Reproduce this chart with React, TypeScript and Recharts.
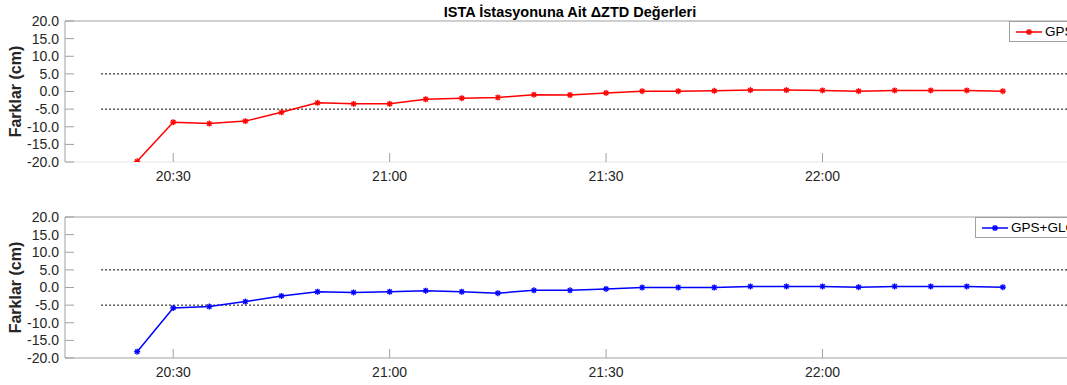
import { LineChart, Line, XAxis, YAxis, ReferenceLine } from 'recharts';

// 5-minute epochs
const times = [
  '20:25', '20:30', '20:35', '20:40', '20:45', '20:50', '20:55', '21:00', '21:05',
  '21:10', '21:15', '21:20', '21:25', '21:30', '21:35', '21:40', '21:45', '21:50',
  '21:55', '22:00', '22:05', '22:10', '22:15', '22:20', '22:25',
];

const gpsValues = [
  -19.8, -8.7, -9.1, -8.4, -5.9, -3.2, -3.5, -3.5, -2.2, -1.9, -1.7, -0.9, -1.0,
  -0.4, 0.1, 0.1, 0.2, 0.4, 0.4, 0.3, 0.1, 0.3, 0.3, 0.3, 0.1,
];

const gpsGloValues = [
  -18.2, -5.8, -5.4, -4.0, -2.4, -1.2, -1.4, -1.2, -0.9, -1.2, -1.6, -0.8, -0.8,
  -0.4, 0.0, 0.0, 0.0, 0.3, 0.3, 0.3, 0.1, 0.3, 0.3, 0.3, 0.1,
];

const xTickLabels = ['20:30', '21:00', '21:30', '22:00'];
const xRange = ['20:15', '22:35'];
const limitRange = ['20:20', '22:35'];
const limits = [5, -5];
const yTicks = [-20, -15, -10, -5, 0, 5, 10, 15, 20];

const FONT = '"Liberation Sans", Arial, sans-serif';
const AXIS_GRAY = '#a0a0a0';

const toMin = (s: string) => {
  const [h, m] = s.split(':').map(Number);
  return h * 60 + m;
};
const fmtTime = (v: number) => {
  const h = Math.floor(v / 60);
  const m = v % 60;
  return `${h}:${m < 10 ? '0' + m : m}`;
};

const xDomain = xRange.map(toMin);
const xTicks = xTickLabels.map(toMin);

// MATLAB style '*' marker
const StarDot = (props: any) => {
  const { cx, cy, stroke, index } = props;
  if (cx == null || cy == null) return <g key={index} />;
  const r = 3;
  const d = r * 0.72;
  return (
    <g key={index} stroke={stroke} strokeWidth={1.4}>
      <line x1={cx - r} y1={cy} x2={cx + r} y2={cy} />
      <line x1={cx} y1={cy - r} x2={cx} y2={cy + r} />
      <line x1={cx - d} y1={cy - d} x2={cx + d} y2={cy + d} />
      <line x1={cx - d} y1={cy + d} x2={cx + d} y2={cy - d} />
    </g>
  );
};

interface PanelProps {
  values: number[];
  color: string;
  top: number;
  bottomLine: string;
}

function Panel({ values, color, top, bottomLine }: PanelProps) {
  const data = times.map((t, i) => ({ t: toMin(t), v: values[i] }));
  const tickStyle = { fill: '#262626', fontSize: 14, fontFamily: FONT };

  return (
    <div style={{ position: 'absolute', left: 0, top }}>
      <LineChart
        width={1120}
        height={200}
        data={data}
        margin={{ top: 20, right: 32, left: 0, bottom: 8 }}
      >
        <XAxis
          xAxisId="b"
          type="number"
          dataKey="t"
          domain={xDomain}
          ticks={xTicks}
          interval={0}
          allowDataOverflow
          tickFormatter={fmtTime}
          tick={tickStyle}
          tickSize={-9}
          tickMargin={18}
          height={30}
          stroke={AXIS_GRAY}
          axisLine={{ stroke: bottomLine }}
        />
        <XAxis
          xAxisId="top"
          orientation="top"
          type="number"
          dataKey="t"
          domain={xDomain}
          ticks={xTicks}
          interval={0}
          allowDataOverflow
          tick={false}
          tickSize={-9}
          height={1}
          stroke={AXIS_GRAY}
        />
        <YAxis
          yAxisId="l"
          type="number"
          domain={[-20, 20]}
          ticks={yTicks}
          interval={0}
          allowDataOverflow
          tickFormatter={(v: number) => v.toFixed(1)}
          tick={tickStyle}
          tickSize={-9}
          tickMargin={15}
          width={65}
          stroke={AXIS_GRAY}
          label={{
            value: 'Farklar (cm)',
            angle: -90,
            position: 'insideLeft',
            offset: 15,
            style: {
              textAnchor: 'middle',
              fontSize: 16,
              fontWeight: 'bold',
              fontFamily: FONT,
              fill: '#262626',
            },
          }}
        />
        <YAxis
          yAxisId="r"
          orientation="right"
          type="number"
          domain={[-20, 20]}
          ticks={yTicks}
          interval={0}
          allowDataOverflow
          tick={false}
          tickSize={-9}
          width={13}
          stroke={AXIS_GRAY}
        />
        {limits.map(y => (
          <ReferenceLine
            key={y}
            xAxisId="b"
            yAxisId="l"
            segment={[
              { x: toMin(limitRange[0]), y },
              { x: toMin(limitRange[1]), y },
            ]}
            stroke="#000"
            strokeDasharray="2 2"
            strokeWidth={1}
          />
        ))}
        <Line
          xAxisId="b"
          yAxisId="l"
          type="linear"
          dataKey="v"
          stroke={color}
          strokeWidth={1.5}
          dot={<StarDot />}
          activeDot={false}
          isAnimationActive={false}
        />
      </LineChart>
    </div>
  );
}

function LegendBox({ left, top, color, label, height }: { left: number; top: number; color: string; label: string; height: number }) {
  return (
    <div
      style={{
        position: 'absolute',
        left,
        top,
        height,
        width: 160,
        boxSizing: 'border-box',
        border: `1px solid ${AXIS_GRAY}`,
        background: '#fff',
        display: 'flex',
        alignItems: 'center',
        fontFamily: FONT,
        fontSize: 13.5,
        lineHeight: '16px',
        color: '#000',
        whiteSpace: 'nowrap',
      }}
    >
      <svg width={35} height={12} style={{ flex: 'none' }}>
        <line x1={6} y1={6} x2={32} y2={6} stroke={color} strokeWidth={1.5} />
        <g stroke={color} strokeWidth={1.4}>
          <line x1={16} y1={6} x2={22} y2={6} />
          <line x1={19} y1={3} x2={19} y2={9} />
          <line x1={16.8} y1={3.8} x2={21.2} y2={8.2} />
          <line x1={16.8} y1={8.2} x2={21.2} y2={3.8} />
        </g>
      </svg>
      <span>{label}</span>
    </div>
  );
}

export default function App() {
  return (
    <div
      style={{
        position: 'fixed',
        left: 0,
        top: 0,
        width: 1067,
        height: 385,
        overflow: 'hidden',
        background: '#fff',
      }}
    >
      <Panel values={gpsValues} color="#ff0000" top={0} bottomLine="#e6e6e6" />
      <Panel values={gpsGloValues} color="#0000ff" top={196} bottomLine={AXIS_GRAY} />
      <div
        style={{
          position: 'absolute',
          left: 370,
          top: 4,
          width: 400,
          textAlign: 'center',
          fontFamily: FONT,
          fontWeight: 'bold',
          fontSize: 14.5,
          lineHeight: '16px',
          color: '#000',
          whiteSpace: 'nowrap',
        }}
      >
        ISTA İstasyonuna Ait ΔZTD Değerleri
      </div>
      <LegendBox left={1009} top={21} height={21} color="#ff0000" label="GPS" />
      <LegendBox left={975} top={217} height={21} color="#0000ff" label="GPS+GLONASS" />
    </div>
  );
}
